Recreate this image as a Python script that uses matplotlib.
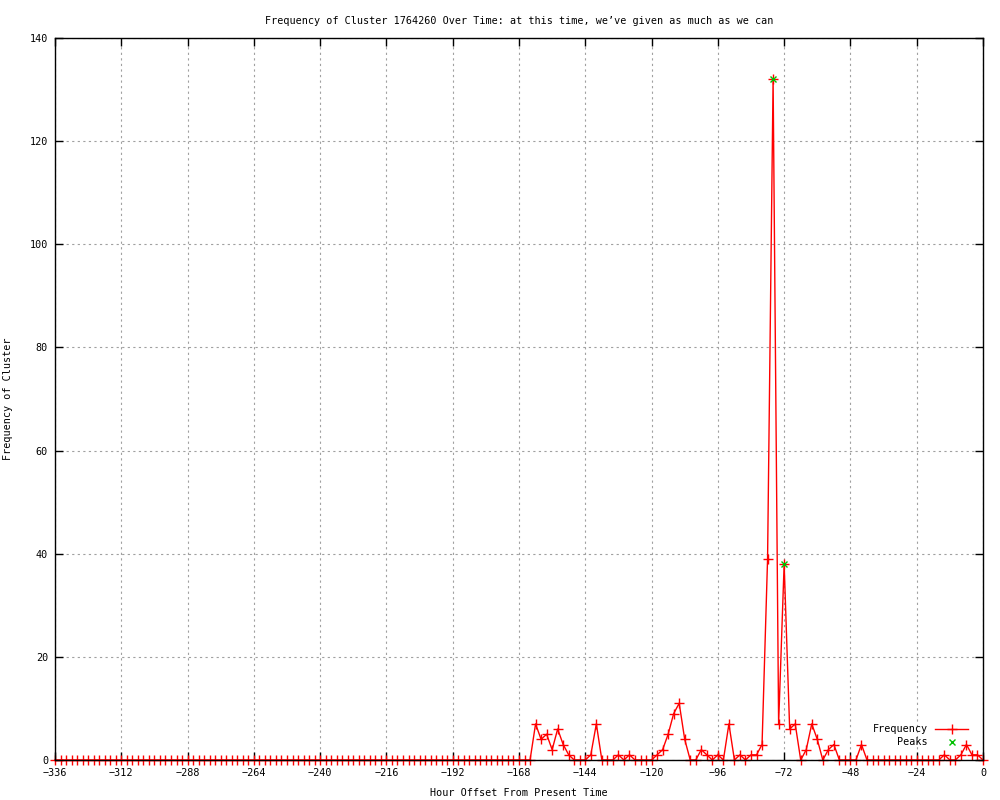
import numpy as np
import matplotlib
matplotlib.use("Agg")
import matplotlib.pyplot as plt

# hourly offsets (every 2 hours) from two weeks ago up to now
hours = np.arange(-336, 1, 2)

# cluster frequency per 2-hour slot, -336 ... 0
frequency = (
    [0] * 87 +                                   # -336 .. -164
    [7, 4, 5, 2, 6, 3, 1, 0, 0, 0,              # -162 .. -144
     1, 7, 0, 0, 0, 1, 0, 1, 0, 0,              # -142 .. -124
     0, 0, 1, 2, 5, 9, 11, 4, 0, 0,             # -122 .. -104
     2, 1, 0, 1, 0, 7, 0, 1, 0, 1,              # -102 .. -84
     1, 3, 39, 132, 7, 38, 6, 7, 0, 2,          # -82 .. -64
     7, 4, 0, 2, 3, 0, 0, 0, 0, 3,              # -62 .. -44
     0, 0, 0, 0, 0, 0, 0, 0, 0, 0,              # -42 .. -24
     0, 0, 0, 0, 1, 0, 0, 1, 3, 1,              # -22 .. -4
     1, 0]                                      # -2, 0
)

peak_hours = [-76, -72]
peak_values = [132, 38]

x_ticks = list(range(-336, 1, 24))
y_ticks = list(range(0, 141, 20))

plt.rcParams['font.family'] = ['DejaVu Sans Mono']
plt.rcParams['font.size'] = 7.3

fig = plt.figure(figsize=(10, 8), dpi=100)
ax = fig.add_axes([0.055, 0.05, 0.928, 0.9025])

# keep data just under the black frame so the baseline stays black
ax.plot(hours, frequency, color='red', linewidth=1, marker='+',
        markersize=7, markeredgewidth=1, label='Frequency', clip_on=False, zorder=2.2)
ax.plot(peak_hours, peak_values, linestyle='none', color='#00c000', marker='x',
        markersize=5, markeredgewidth=1, label='Peaks', clip_on=False, zorder=2.3)

ax.set_xlim(-336, 0)
ax.set_ylim(0, 140)
ax.set_xticks(x_ticks)
ax.set_yticks(y_ticks)
ax.tick_params(direction='in', length=6, width=1, top=True, right=True, color='black')
ax.tick_params(axis='x', pad=6)
ax.tick_params(axis='y', pad=5)
ax.grid(True, linestyle=(0, (2, 3)), color='#a0a0a0', linewidth=0.8)
for s in ax.spines.values():
    s.set_linewidth(1)
    s.set_zorder(3)

ax.set_title("Frequency of Cluster 1764260 Over Time: at this time, we\u2019ve given as much as we can",
             fontsize=7.3, pad=10)
ax.set_xlabel("Hour Offset From Present Time", labelpad=7)
ax.set_ylabel("Frequency of Cluster", labelpad=12)

ax.legend(loc='lower right', bbox_to_anchor=(0.992, 0.008), frameon=False,
          markerfirst=False, handlelength=3.3, handletextpad=0.7,
          labelspacing=0.3, borderpad=0.2)

fig.savefig('out.png', dpi=100)
